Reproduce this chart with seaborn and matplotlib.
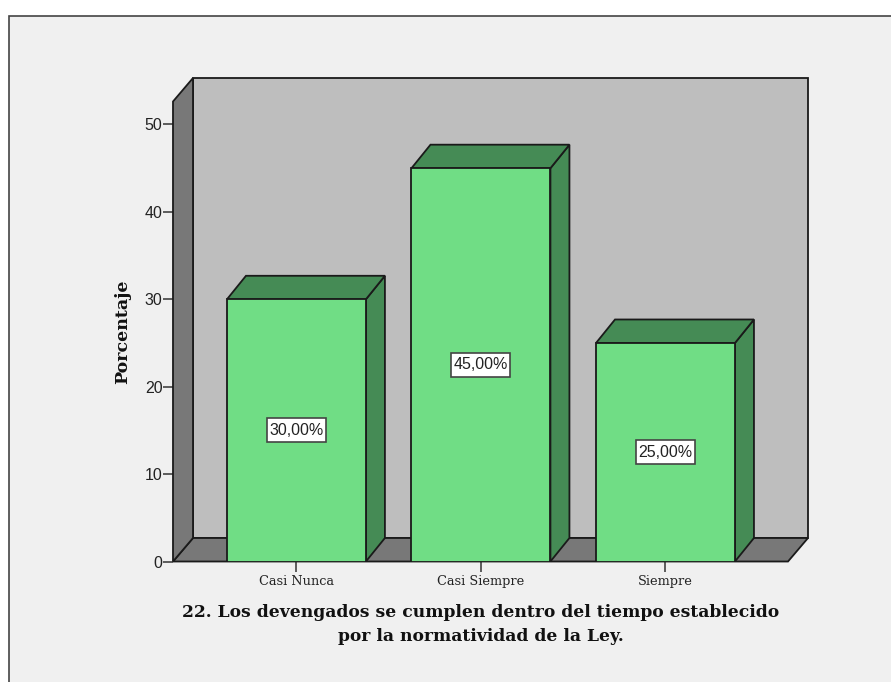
import pandas as pd
import matplotlib.pyplot as plt
from matplotlib.patches import Polygon, Rectangle
import seaborn as sns

categorias = ["Casi Nunca", "Casi Siempre", "Siempre"]
porcentajes = [30.0, 45.0, 25.0]
etiquetas = ["30,00%", "45,00%", "25,00%"]
yticks = [0, 10, 20, 30, 40, 50]

W, H = 891, 682
VERDE = "#70DD85"
VERDE_OSC = "#458B55"
GRIS_PARED = "#BEBEBE"
GRIS_OSC = "#787878"
BORDE = "#1a1a1a"

sns.set_theme(style="white")
fig = plt.figure(figsize=(W / 100, H / 100), dpi=100, facecolor="white")

# panel de fondo
fig.patches.append(Rectangle((9 / W, -0.01), 1, 1 - 16 / H + 0.01, transform=fig.transFigure,
                             facecolor="#F0F0F0", edgecolor="#444444", linewidth=1.2, zorder=-1))

ax = fig.add_axes([173 / W, (H - 561.5) / H, 615 / W, 460 / H])
ax.patch.set_alpha(0)

df = pd.DataFrame({"cat": categorias, "pct": porcentajes})
sns.barplot(data=df, x="cat", y="pct", color=VERDE, saturation=1, width=0.753,
            edgecolor=BORDE, linewidth=1.3, zorder=4, ax=ax)
barras = list(ax.patches)

x0, x1 = -0.669, 2.664
ytop = 52.63
ax.set_xlim(x0, x1)
ax.set_ylim(0, ytop)

# profundidad 3D en unidades de datos
dx = 20 / 184.5
dy = 23.5 / 8.74
dx_barra = 19 / 184.5
# caja de la etiqueta, 59x24 px
caja_w = 59 / 184.5
caja_h = 24 / 8.74


def poly(puntos, color, z):
    ax.add_patch(Polygon(puntos, closed=True, facecolor=color, edgecolor=BORDE,
                         linewidth=1.3, zorder=z, clip_on=False, joinstyle="miter"))


poly([(x0 + dx, dy), (x1 + dx, dy), (x1 + dx, ytop + dy), (x0 + dx, ytop + dy)], GRIS_PARED, 1)
poly([(x0, 0), (x1, 0), (x1 + dx, dy), (x0 + dx, dy)], GRIS_OSC, 2)
poly([(x0, 0), (x0 + dx, dy), (x0 + dx, ytop + dy), (x0, ytop)], GRIS_OSC, 2)

for bar, valor, txt in zip(barras, porcentajes, etiquetas):
    izq = bar.get_x()
    der = izq + bar.get_width()
    centro = izq + bar.get_width() / 2
    poly([(der, 0), (der + dx_barra, dy), (der + dx_barra, valor + dy), (der, valor)], VERDE_OSC, 3)
    poly([(izq, valor), (der, valor), (der + dx_barra, valor + dy), (izq + dx_barra, valor + dy)], VERDE_OSC, 3)
    ax.add_patch(Rectangle((centro - caja_w / 2, valor / 2 - caja_h / 2), caja_w, caja_h,
                           facecolor="white", edgecolor="#444444", linewidth=1.2, zorder=5))
    ax.text(centro, valor / 2, txt, ha="center", va="center", zorder=6,
            fontsize=11.5, family="Liberation Sans", color="#222222")

sns.despine(ax=ax, left=True, bottom=True, top=True, right=True)
ax.set_yticks(yticks)
ax.set_yticklabels([str(v) for v in yticks], family="Liberation Sans", fontsize=11.5, color="#222222")
ax.set_xticks(range(len(categorias)))
ax.set_xticklabels(categorias, family="DejaVu Serif", fontsize=9.3, color="#222222")
ax.tick_params(axis="y", left=True, length=7, width=1.1, color="#333333", pad=0.5)
ax.tick_params(axis="x", bottom=True, length=7, width=1.1, color="#333333", pad=2.5)

ax.set_ylabel("Porcentaje", family="DejaVu Serif", fontweight="bold", fontsize=12.5,
              color="#111111", labelpad=10)
ax.set_xlabel("22. Los devengados se cumplen dentro del tiempo establecido\npor la normatividad de la Ley.",
              family="DejaVu Serif", fontweight="bold", fontsize=12.35, color="#111111",
              labelpad=11.5, linespacing=1.6)

plt.savefig("out.png", dpi=100)
